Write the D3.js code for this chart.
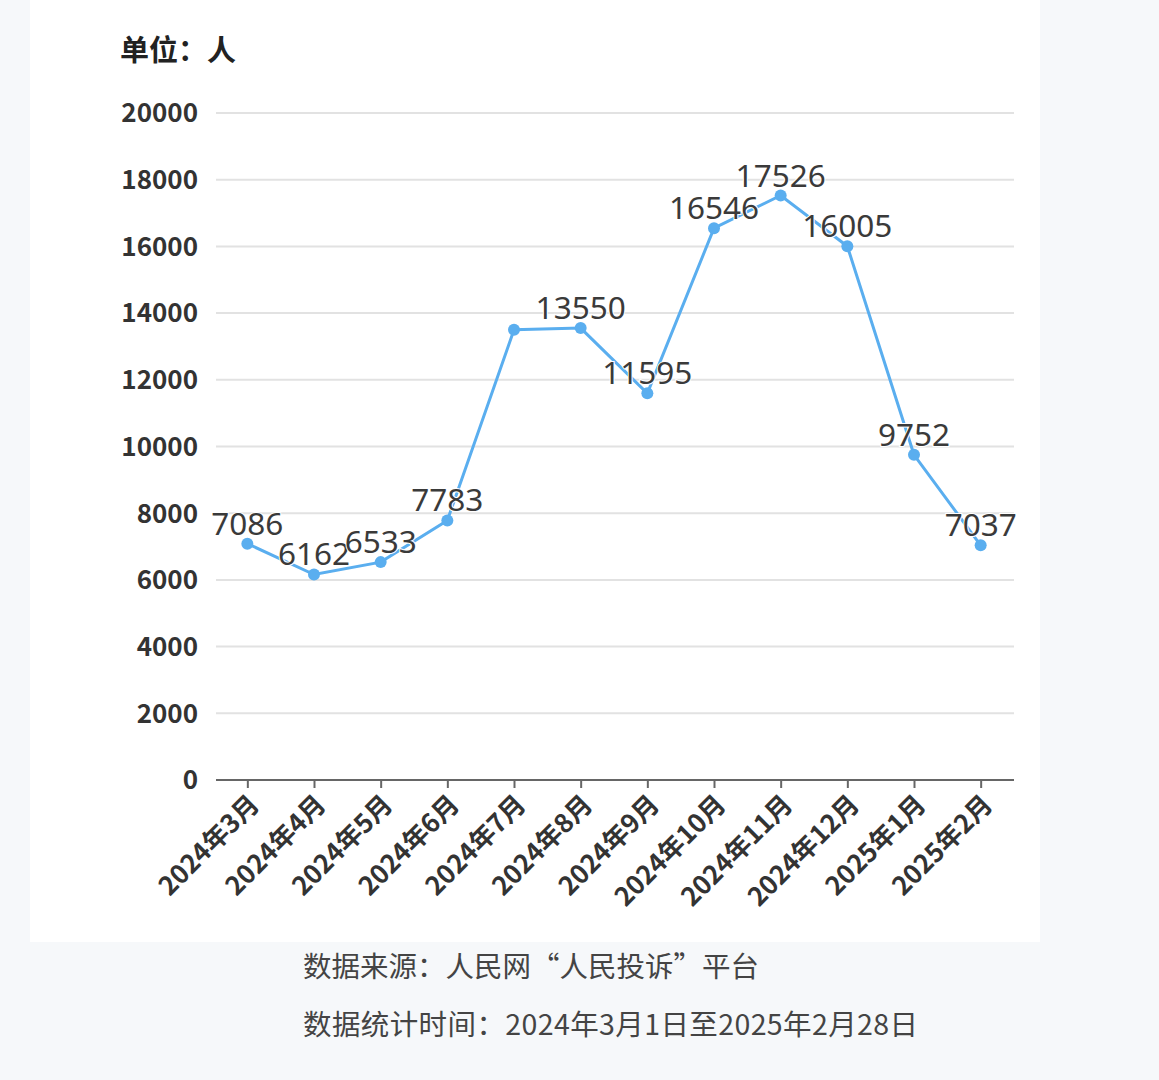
<!DOCTYPE html>
<html>
<head>
<meta charset="utf-8">
<script src="https://cdn.jsdelivr.net/npm/d3@7"></script>
<style>
  html, body { margin: 0; padding: 0; background: #f6f8fa; }
  svg { display: block; }
  .tick-y { font-family: "Noto Sans CJK SC", "Noto Sans", sans-serif; font-weight: 700; font-size: 26px; fill: #333; }
  .tick-x { font-family: "Noto Sans CJK SC", "Noto Sans", sans-serif; font-weight: 700; font-size: 26px; fill: #333; }
  .val { font-family: "Noto Sans", "Noto Sans CJK SC", sans-serif; font-size: 31.5px; fill: #3a3a3a; }
  .note { font-family: "Noto Sans CJK SC", sans-serif; font-size: 28.5px; fill: #444; }
</style>
</head>
<body>
<div id="chart"></div>
<script>
// months on the x axis
const months = ["2024年3月", "2024年4月", "2024年5月", "2024年6月", "2024年7月", "2024年8月",
  "2024年9月", "2024年10月", "2024年11月", "2024年12月", "2025年1月", "2025年2月"];
// complaints per month (persons)
const counts = [7086, 6162, 6533, 7783, 13500, 13550, 11595, 16546, 17526, 16005, 9752, 7037];
// which labels are printed
const shownLabels = [true, true, true, true, false, true, true, true, true, true, true, true];
const yTicks = [0, 2000, 4000, 6000, 8000, 10000, 12000, 14000, 16000, 18000, 20000];

const unitText = "单位：人";
const notes = ["数据来源：人民网“人民投诉”平台", "数据统计时间：2024年3月1日至2025年2月28日"];

const W = 1159, H = 1080;
const margin = { left: 214, right: 145, top: 113, bottom: 300 };

const svg = d3.select("#chart").append("svg")
  .attr("width", W)
  .attr("height", H);

// white card
svg.append("rect")
  .attr("x", 30).attr("y", 0)
  .attr("width", 1010).attr("height", 942)
  .attr("fill", "#fff");

const x = d3.scalePoint()
  .domain(months)
  .range([margin.left, W - margin.right])
  .padding(0.5);

const y = d3.scaleLinear()
  .domain([0, 20000])
  .range([H - margin.bottom, margin.top]);

// gridlines
svg.append("g")
  .selectAll("line")
  .data(yTicks.filter(d => d > 0))
  .join("line")
  .attr("x1", margin.left + 2)
  .attr("x2", W - margin.right)
  .attr("y1", d => y(d))
  .attr("y2", d => y(d))
  .attr("stroke", "#e2e2e2")
  .attr("stroke-width", 2);

// y labels
svg.append("g")
  .selectAll("text")
  .data(yTicks)
  .join("text")
  .attr("class", "tick-y")
  .attr("x", 198)
  .attr("y", d => y(d))
  .attr("dy", "0.36em")
  .attr("text-anchor", "end")
  .text(d => d);

// x axis
const xAxis = svg.append("g")
  .attr("transform", `translate(0,${y(0)})`)
  .call(d3.axisBottom(x).tickSize(8).tickSizeOuter(0));
xAxis.select(".domain")
  .attr("d", `M${margin.left + 2},0H${W - margin.right}`)
  .attr("stroke", "#666").attr("stroke-width", 2);
xAxis.selectAll(".tick line").attr("stroke", "#666").attr("stroke-width", 2);
xAxis.selectAll(".tick text")
  .attr("class", "tick-x")
  .attr("text-anchor", "end")
  .attr("x", null).attr("y", null).attr("dy", null)
  .attr("transform", "translate(13,26) rotate(-45)");

// line
const line = d3.line()
  .x((d, i) => x(months[i]))
  .y(d => y(d));

const labelData = counts.map((v, i) => ({ v, i })).filter(d => shownLabels[d.i]);

// labels (under the line)
svg.append("g")
  .selectAll("text")
  .data(labelData)
  .join("text")
  .attr("class", "val")
  .attr("x", d => x(months[d.i]))
  .attr("y", d => y(d.v) - 9)
  .attr("text-anchor", "middle")
  .text(d => d.v);

svg.append("path")
  .datum(counts)
  .attr("d", line)
  .attr("fill", "none")
  .attr("stroke", "#5aaeef")
  .attr("stroke-width", 3);

// label halo on top, partly hiding the line
svg.append("g")
  .selectAll("text")
  .data(labelData)
  .join("text")
  .attr("class", "val")
  .attr("x", d => x(months[d.i]))
  .attr("y", d => y(d.v) - 9)
  .attr("text-anchor", "middle")
  .attr("stroke", "#fff")
  .attr("stroke-width", 2)
  .attr("paint-order", "stroke")
  .text(d => d.v);

svg.append("g")
  .selectAll("circle")
  .data(counts)
  .join("circle")
  .attr("cx", (d, i) => x(months[i]))
  .attr("cy", d => y(d))
  .attr("r", 6)
  .attr("fill", "#5aaeef");

// unit title
svg.append("text")
  .attr("x", 120).attr("y", 61)
  .attr("font-family", "Noto Sans CJK SC")
  .attr("font-weight", 700)
  .attr("font-size", 29)
  .attr("fill", "#222")
  .text(unitText);

// footnotes
svg.append("g")
  .selectAll("text")
  .data(notes)
  .join("text")
  .attr("class", "note")
  .attr("x", 303)
  .attr("y", (d, i) => 977 + i * 58)
  .attr("letter-spacing", (d, i) => i === 1 ? 0.4 : 0)
  .text(d => d);
</script>
</body>
</html>
